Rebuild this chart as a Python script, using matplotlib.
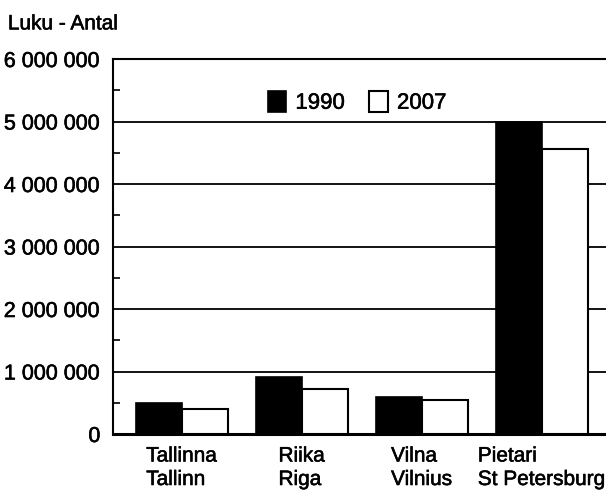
import matplotlib
matplotlib.use('Agg')
import matplotlib.pyplot as plt
import matplotlib.patheffects as pe
import numpy as np
from matplotlib.ticker import FuncFormatter, MultipleLocator

plt.rcParams['font.family'] = ['Liberation Sans', 'DejaVu Sans']

cities = ['Tallinna\nTallinn', 'Riika\nRiga', 'Vilna\nVilnius', 'Pietari\nSt Petersburg']
pop_1990 = [500000, 910000, 590000, 5000000]
pop_2007 = [400000, 720000, 545000, 4560000]
yticks = [0, 1000000, 2000000, 3000000, 4000000, 5000000, 6000000]

fig = plt.figure(figsize=(6.06, 4.98), dpi=100)
ax = fig.add_axes([0.1865, 0.1285, 0.8135, 0.753])

x = np.arange(len(cities))
w = 0.383
ax.bar(x - w / 2, pop_1990, w, color='black', edgecolor='black', linewidth=1.2, label='1990', zorder=3)
ax.bar(x + w / 2, pop_2007, w, color='white', edgecolor='black', linewidth=1.5, label='2007', zorder=3)

ax.set_xlim(-0.5725, 3.536)
ax.set_ylim(0, 6000000)
ax.set_yticks(yticks)
ax.yaxis.set_minor_locator(MultipleLocator(500000))
ax.yaxis.set_major_formatter(FuncFormatter(lambda v, p: f'{int(v):,}'.replace(',', ' ')))
ax.grid(axis='y', color='black', linewidth=1.3, zorder=1)

ax.set_xticks(x)
ax.set_xticklabels(cities, multialignment='left', linespacing=1.3)
ax.tick_params(axis='x', length=0, pad=9, labelsize=15)
ax.tick_params(axis='y', which='major', length=0, pad=9, labelsize=15.5)
ax.tick_params(axis='y', which='minor', direction='in', length=5, width=1.2)

ax.spines['right'].set_visible(False)
ax.spines['left'].set_linewidth(1.5)
ax.spines['top'].set_linewidth(1.5)
ax.spines['bottom'].set_linewidth(2.2)

leg = ax.legend(loc='center', bbox_to_anchor=(0.495, 0.885), ncol=2, frameon=False,
                fontsize=16, handlelength=0.85, handleheight=1.1, handletextpad=0.4,
                columnspacing=1.1, borderaxespad=0)

title = fig.text(0.013, 0.952, 'Luku - Antal', fontsize=15, ha='left', va='center')

# heavier text strokes, like the printed original
heavy = [pe.withStroke(linewidth=0.4, foreground='black')]
for t in ax.get_xticklabels() + ax.get_yticklabels() + leg.get_texts() + [title]:
    t.set_path_effects(heavy)

fig.savefig('out.png', dpi=100)
